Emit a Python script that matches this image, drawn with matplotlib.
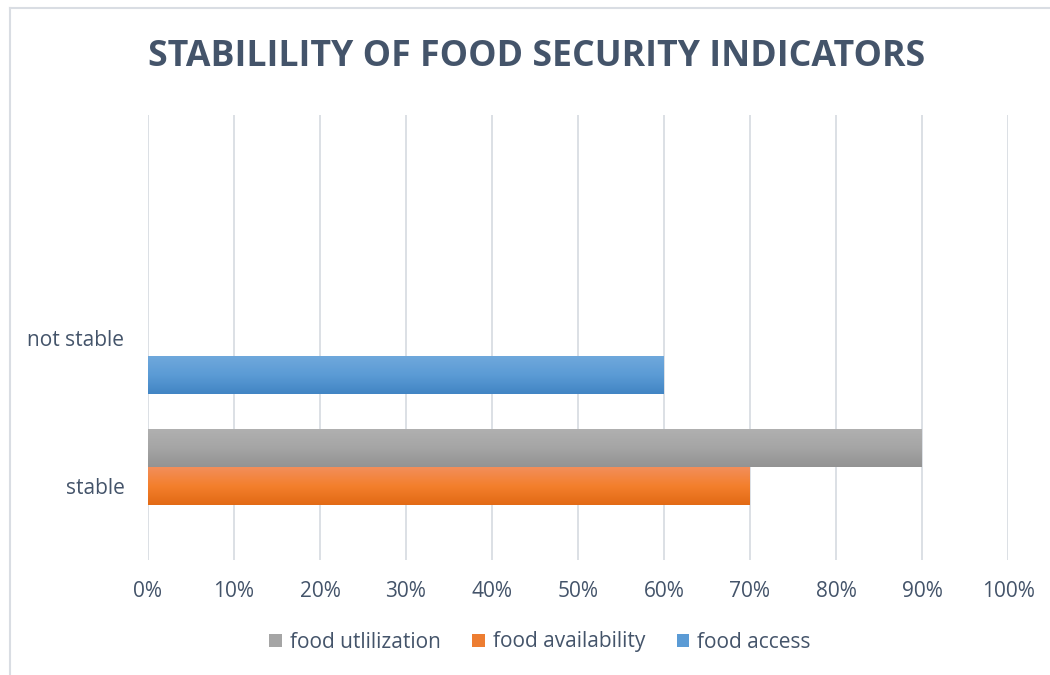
import matplotlib
matplotlib.use("Agg")
import matplotlib.pyplot as plt
import numpy as np
from matplotlib.colors import LinearSegmentedColormap
from matplotlib.lines import Line2D
from matplotlib.patches import Patch

categories = ["stable", "not stable", ""]
series_names = ["food access", "food availability", "food utlilization"]
food_access = [0.0, 0.60, 0.0]
food_availability = [0.70, 0.0, 0.0]
food_utilization = [0.90, 0.0, 0.0]
x_ticks = [0, 0.1, 0.2, 0.3, 0.4, 0.5, 0.6, 0.7, 0.8, 0.9, 1.0]
x_tick_labels = ["0%", "10%", "20%", "30%", "40%", "50%", "60%", "70%", "80%", "90%", "100%"]

values = [food_access, food_availability, food_utilization]
# (top colour, mid colour, bottom colour) for gradient
grads = [("#6fa8dc", "#5b9bd5", "#4285c4"),
         ("#f28e5a", "#f47f2c", "#e26a15"),
         ("#b0b0b0", "#a5a5a5", "#939393")]
legend_colors = ["#5b9bd5", "#ed7d31", "#a5a5a5"]

TXT = "#44546A"
plt.rcParams['font.family'] = ['Open Sans', 'DejaVu Sans']

fig = plt.figure(figsize=(10.5, 6.75), dpi=100)
ax = fig.add_axes([148/1050, 1-560/675, 860/1050, 445/675])

bh = 0.256
offsets = [-bh, 0.0, bh]
y = np.arange(len(categories))
for vals, off, g, name in zip(values, offsets, grads, series_names):
    bars = ax.barh(y + off, vals, height=bh, color=g[1], zorder=2, label=name)
    cmap = LinearSegmentedColormap.from_list("g", [g[2], g[1], g[0]])
    for b in bars:
        w = b.get_width()
        if w <= 0:
            continue
        x0, y0 = b.get_x(), b.get_y()
        h = b.get_height()
        grad = np.linspace(0, 1, 64).reshape(-1, 1)
        ax.imshow(grad, extent=[x0, x0 + w, y0, y0 + h], origin="lower",
                  cmap=cmap, aspect="auto", zorder=3, interpolation="bicubic")

ax.set_xlim(0, 1.0)
ax.set_ylim(-0.5, len(categories) - 0.5)
ax.set_xticks(x_ticks)
ax.set_xticklabels(x_tick_labels)
ax.set_yticks(y)
ax.set_yticklabels(categories)
ax.xaxis.grid(True, color="#D9DDE3", linewidth=1.3, zorder=0)
ax.set_axisbelow(True)
for s in ax.spines.values():
    s.set_visible(False)
ax.tick_params(axis="both", length=0, labelsize=15, labelcolor=TXT)
ax.tick_params(axis="x", pad=15)
ax.tick_params(axis="y", pad=17)

fig.text(0.511, 1-57/675, "STABILILITY OF FOOD SECURITY INDICATORS", ha="center", va="center",
         fontsize=25.7, fontweight="bold", color=TXT)

handles = [Patch(facecolor=legend_colors[2]), Patch(facecolor=legend_colors[1]), Patch(facecolor=legend_colors[0])]
labels = [series_names[2], series_names[1], series_names[0]]
fig.legend(handles, labels, loc="center", bbox_to_anchor=(540/1050, 1-642/675), ncol=3,
           frameon=False, fontsize=15, labelcolor=TXT, handlelength=0.6, handleheight=0.6,
           handletextpad=0.4, columnspacing=1.5)

# outer chart border (top and left visible)
fig.add_artist(Line2D([10/1050, 10/1050], [0, 1-8/675], transform=fig.transFigure, color="#D9DDE3", lw=1.5))
fig.add_artist(Line2D([10/1050, 1], [1-8/675, 1-8/675], transform=fig.transFigure, color="#D9DDE3", lw=1.5))

fig.savefig("out.png", dpi=100, facecolor="white")
